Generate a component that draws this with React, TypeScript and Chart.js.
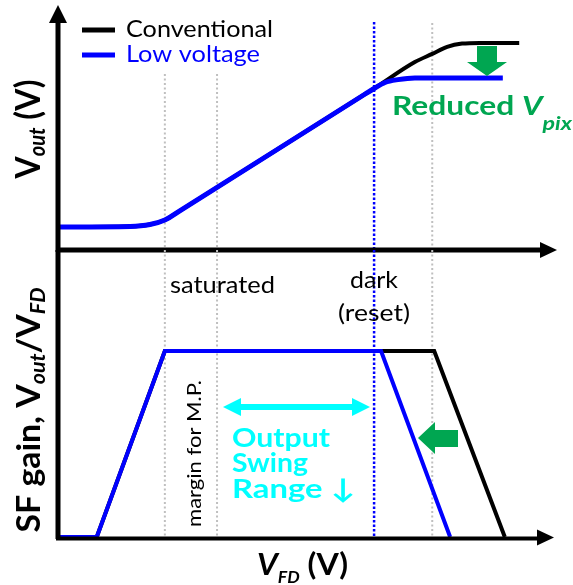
import React, { useEffect, useRef } from 'react';
import { Chart, registerables } from 'chart.js';
Chart.register(...registerables);

// ---- data (V_FD in arbitrary units 0..10) ----
const seriesNames = ['Conventional', 'Low voltage'];

// top panel: V_out vs V_FD
const vfdLowTop = [0, 1.45, 1.85, 2.15, 2.45, 6.18, 6.36, 6.58, 6.84, 7.18, 8.95];
const voutLow = [0.96, 0.98, 1.06, 1.25, 1.63, 6.5, 6.73, 6.98, 7.10, 7.17, 7.17];
const vfdConvTop = [0, 1.45, 1.85, 2.15, 2.45, 6.18, 6.36, 7.18, 7.53, 7.83, 8.13, 8.49, 9.28];
const voutConv = [0.96, 0.98, 1.06, 1.25, 1.63, 6.5, 6.73, 7.83, 8.17, 8.46, 8.60, 8.63, 8.63];

// bottom panel: SF gain vs V_FD
const vfdLowGain = [0, 0.78, 2.15, 6.50, 7.89];
const gainLow = [0, 0, 1, 1, 0];
const vfdConvGain = [0, 0.78, 2.15, 7.57, 8.99];
const gainConv = [0, 0, 1, 1, 0];

// reference V_FD markers: saturated, margin, dark(low), dark(conv)
const markerVfd = [2.15, 3.20, 6.36, 7.53];
const markerTopVout = [7.33, 7.33, 9.5, 9.46];

const GREEN = '#00A651';
const CYAN = '#00FFFF';
const BLUE = '#0000FF';
const FF = 'Lato, "DejaVu Sans", sans-serif';

type Run = { t: string; font: string; dy?: number };

function drawRuns(
  ctx: CanvasRenderingContext2D,
  runs: Run[],
  x: number,
  y: number,
  width: number,
  color: string,
  align: 'left' | 'center' = 'left',
  rotate = false
) {
  ctx.save();
  ctx.translate(x, y);
  if (rotate) ctx.rotate(-Math.PI / 2);
  const widths = runs.map((r) => {
    ctx.font = r.font;
    return ctx.measureText(r.t).width;
  });
  const total = widths.reduce((a, b) => a + b, 0);
  ctx.scale(width / total, 1);
  let cx = align === 'center' ? -total / 2 : 0;
  ctx.fillStyle = color;
  ctx.textBaseline = 'alphabetic';
  ctx.textAlign = 'left';
  runs.forEach((r, i) => {
    ctx.font = r.font;
    ctx.fillText(r.t, cx, r.dy || 0);
    cx += widths[i];
  });
  ctx.restore();
}

function poly(ctx: CanvasRenderingContext2D, pts: number[][], color: string) {
  ctx.beginPath();
  ctx.moveTo(pts[0][0], pts[0][1]);
  for (let i = 1; i < pts.length; i++) ctx.lineTo(pts[i][0], pts[i][1]);
  ctx.closePath();
  ctx.fillStyle = color;
  ctx.fill();
}

function line(ctx: CanvasRenderingContext2D, x1: number, y1: number, x2: number, y2: number, color: string, w: number, dash: number[] = []) {
  ctx.save();
  ctx.beginPath();
  ctx.setLineDash(dash);
  ctx.strokeStyle = color;
  ctx.lineWidth = w;
  ctx.moveTo(x1, y1);
  ctx.lineTo(x2, y2);
  ctx.stroke();
  ctx.restore();
}

function dotted(ctx: CanvasRenderingContext2D, x: number, y1: number, y2: number, idx: number) {
  if (idx === 2) line(ctx, x, y1, x, y2, BLUE, 2.5, [2.5, 2]);
  else line(ctx, x, y1, x, y2, '#BFBFBF', 2, [2, 2.5]);
}

const pts = (xs: number[], ys: number[]) => xs.map((x, i) => ({ x, y: ys[i] }));

export default function App() {
  const topRef = useRef<HTMLCanvasElement>(null);
  const botRef = useRef<HTMLCanvasElement>(null);

  useEffect(() => {
    document.body.style.margin = '0';

    const topPlugin = {
      id: 'topDeco',
      beforeDatasetsDraw(chart: any) {
        const { ctx, scales } = chart;
        const x = scales.x, y = scales.y;
        markerVfd.forEach((v, i) => {
          dotted(ctx, x.getPixelForValue(v), y.getPixelForValue(markerTopVout[i]), y.getPixelForValue(0), i);
        });
      },
      afterDatasetsDraw(chart: any) {
        const { ctx, scales, chartArea } = chart;
        const x0 = scales.x.getPixelForValue(0);
        const y0 = scales.y.getPixelForValue(0);
        // axes
        line(ctx, x0, y0 + 2, x0, chartArea.top + 12, '#000', 5);
        poly(ctx, [[x0, chartArea.top - 5], [x0 - 9, chartArea.top + 13], [x0 + 9, chartArea.top + 13]], '#000');
        line(ctx, x0 - 2, y0, chartArea.right - 12, y0, '#000', 5);
        poly(ctx, [[chartArea.right + 2, y0], [chartArea.right - 15, y0 - 8], [chartArea.right - 15, y0 + 8]], '#000');
        // legend
        line(ctx, 82, 30, 115, 30, '#000', 5);
        line(ctx, 82, 55, 115, 55, BLUE, 5);
        drawRuns(ctx, [{ t: seriesNames[0], font: `24px ${FF}` }], 126, 37, 147, '#000');
        drawRuns(ctx, [{ t: seriesNames[1], font: `24px ${FF}` }], 126, 62, 134, BLUE);
        // y label
        drawRuns(
          ctx,
          [
            { t: 'V', font: `bold 35px ${FF}` },
            { t: 'out', font: `italic bold 22px ${FF}`, dy: 5 },
            { t: ' (V)', font: `bold 35px ${FF}` },
          ],
          40, 129, 99, '#000', 'center', true
        );
        // reduced Vpix
        poly(ctx, [[477, 46], [497, 46], [497, 62], [507, 62], [487, 76], [467, 62], [477, 62]], GREEN);
        drawRuns(
          ctx,
          [
            { t: 'Reduced ', font: `bold 26px ${FF}` },
            { t: 'V', font: `italic bold 26px ${FF}` },
            { t: 'pix', font: `italic bold 19px ${FF}`, dy: 15 },
          ],
          392, 115, 180, GREEN
        );
      },
    };

    const botPlugin = {
      id: 'botDeco',
      beforeDatasetsDraw(chart: any) {
        const { ctx, scales, chartArea } = chart;
        markerVfd.forEach((v, i) => {
          dotted(ctx, scales.x.getPixelForValue(v), chartArea.top, scales.y.getPixelForValue(0), i);
        });
      },
      afterDatasetsDraw(chart: any) {
        const { ctx, scales, chartArea } = chart;
        const x0 = scales.x.getPixelForValue(0);
        const y0 = scales.y.getPixelForValue(0);
        line(ctx, x0, chartArea.top, x0, y0 + 2, '#000', 5);
        line(ctx, x0 - 2, y0 + 1.5, chartArea.right - 16, y0 + 1.5, '#000', 4);
        poly(ctx, [[chartArea.right - 1, y0 + 0.5], [chartArea.right - 18, y0 - 7.5], [chartArea.right - 18, y0 + 8.5]], '#000');
        // texts
        drawRuns(ctx, [{ t: 'saturated', font: `24px ${FF}` }], 170, 293, 105, '#000');
        drawRuns(ctx, [{ t: 'dark', font: `24px ${FF}` }], 374, 288, 48, '#000', 'center');
        drawRuns(ctx, [{ t: '(reset)', font: `24px ${FF}` }], 374, 321, 72, '#000', 'center');
        drawRuns(ctx, [{ t: 'margin for M.P.', font: `19px ${FF}` }], 201, 453.5, 147, '#000', 'center', true);
        drawRuns(
          ctx,
          [
            { t: 'SF gain, V', font: `bold 33px ${FF}` },
            { t: 'out', font: `italic bold 21px ${FF}`, dy: 5 },
            { t: '/V', font: `bold 33px ${FF}` },
            { t: 'FD', font: `italic bold 21px ${FF}`, dy: 5 },
          ],
          40, 410, 245, '#000', 'center', true
        );
        drawRuns(
          ctx,
          [
            { t: 'V', font: `italic bold 31px ${FF}` },
            { t: 'FD', font: `italic bold 17px ${FF}`, dy: 8 },
            { t: ' (V)', font: `bold 31px ${FF}` },
          ],
          257, 575, 91, '#000'
        );
        // cyan arrow and text
        line(ctx, 238, 407, 355, 407, CYAN, 6);
        poly(ctx, [[223, 407], [241, 398], [241, 416]], CYAN);
        poly(ctx, [[370, 407], [352, 398], [352, 416]], CYAN);
        drawRuns(ctx, [{ t: 'Output', font: `bold 27px ${FF}` }], 232, 447, 98, CYAN);
        drawRuns(ctx, [{ t: 'Swing', font: `bold 27px ${FF}` }], 232, 472, 76, CYAN);
        drawRuns(ctx, [{ t: 'Range ↓', font: `bold 27px ${FF}` }], 232, 498, 123, CYAN);
        // green left arrow
        poly(ctx, [[418, 438], [435, 422], [435, 430], [458, 430], [458, 447], [435, 447], [435, 454]], GREEN);
      },
    };

    const common = (padTop: number, padBottom: number, yMax: number) => ({
      responsive: false,
      animation: false as const,
      events: [],
      layout: { padding: { left: 58, right: 18, top: padTop, bottom: padBottom } },
      plugins: { legend: { display: false }, tooltip: { enabled: false } },
      scales: {
        x: { type: 'linear' as const, min: 0, max: 10, display: false },
        y: { type: 'linear' as const, min: 0, max: yMax, display: false },
      },
    });

    const topChart = new Chart(topRef.current!, {
      type: 'line',
      data: {
        datasets: [
          {
            label: seriesNames[0],
            data: pts(vfdConvTop, voutConv),
            borderColor: '#000',
            borderWidth: 4,
            pointRadius: 0,
            cubicInterpolationMode: 'monotone',
            order: 2,
          },
          {
            label: seriesNames[1],
            data: pts(vfdLowTop, voutLow),
            borderColor: BLUE,
            borderWidth: 5,
            pointRadius: 0,
            cubicInterpolationMode: 'monotone',
            order: 1,
          },
        ],
      },
      options: common(10, 335, 10) as any,
      plugins: [topPlugin],
    });

    const botChart = new Chart(botRef.current!, {
      type: 'line',
      data: {
        datasets: [
          {
            label: seriesNames[0],
            data: pts(vfdConvGain, gainConv),
            borderColor: '#000',
            borderWidth: 4,
            pointRadius: 0,
            tension: 0,
            borderJoinStyle: 'miter',
            order: 2,
          },
          {
            label: seriesNames[1],
            data: pts(vfdLowGain, gainLow),
            borderColor: BLUE,
            borderWidth: 4,
            pointRadius: 0,
            tension: 0,
            borderJoinStyle: 'miter',
            order: 1,
          },
        ],
      },
      options: common(250, 48, 1.543) as any,
      plugins: [botPlugin],
    });

    return () => {
      topChart.destroy();
      botChart.destroy();
    };
  }, []);

  const cs: React.CSSProperties = { position: 'absolute', left: 0, top: 0, width: 573, height: 585 };
  return (
    <div style={{ position: 'relative', width: 573, height: 585, background: '#fff' }}>
      <canvas ref={topRef} width={573} height={585} style={cs} />
      <canvas ref={botRef} width={573} height={585} style={cs} />
    </div>
  );
}
